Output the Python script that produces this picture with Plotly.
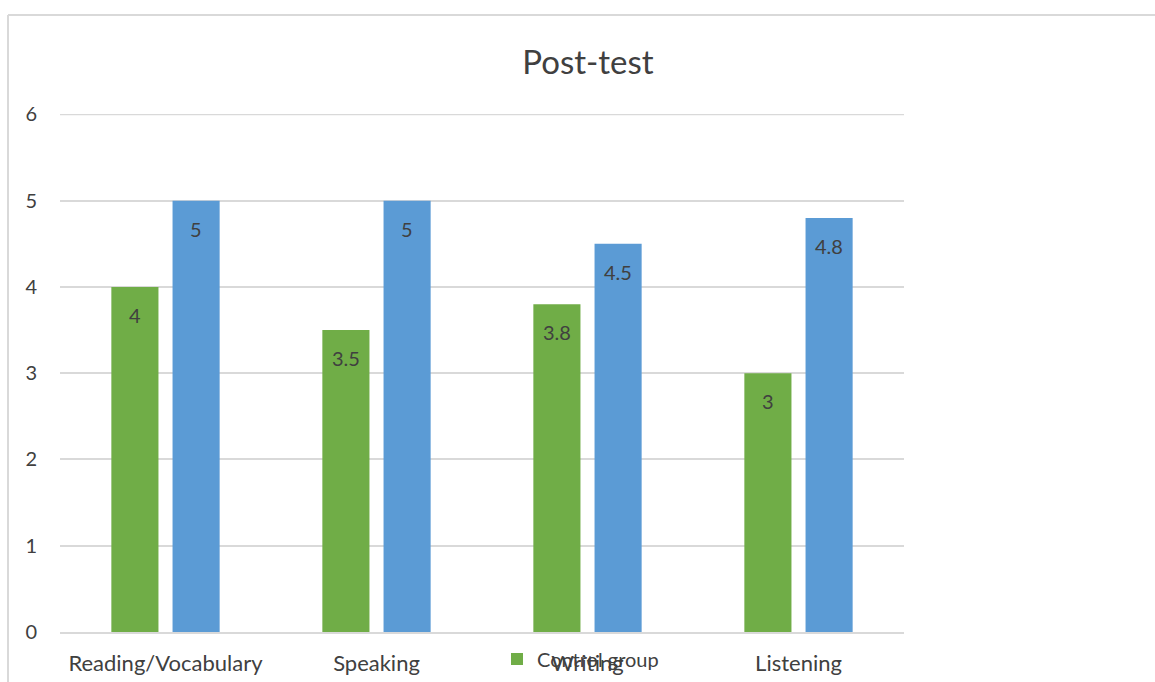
import plotly.graph_objects as go

categories = ["Reading/Vocabulary", "Speaking", "Writing", "Listening"]
control = [4, 3.5, 3.8, 3]
experimental = [5, 5, 4.5, 4.8]
y_ticks = [0, 1, 2, 3, 4, 5, 6]

FONT = "Lato, Open Sans, sans-serif"
TXT = "#404040"

fig = go.Figure()
fig.add_trace(go.Bar(
    x=categories, y=control, name="Control group",
    marker=dict(color="#70AD47", line=dict(width=0)), showlegend=True,
))
fig.add_trace(go.Bar(
    x=categories, y=experimental, name="Experimental group",
    marker=dict(color="#5B9BD5", line=dict(width=0)), showlegend=False,
))

annotations = []
for vals, dx in ((control, -31), (experimental, 30)):
    for c, v in zip(categories, vals):
        annotations.append(dict(
            x=c, y=v, xref="x", yref="y", text=str(v), showarrow=False,
            xshift=dx, yshift=-28, yanchor="middle",
            font=dict(size=20, color=TXT, family=FONT),
        ))

fig.update_layout(
    width=1155, height=682,
    margin=dict(l=60, r=251, t=114, b=50, autoexpand=False),
    paper_bgcolor="white", plot_bgcolor="white",
    barmode="group", bargap=0.42, bargroupgap=0.23,
    font=dict(family=FONT, color=TXT),
    title=dict(text="Post-test", x=588/1155, xanchor="center", xref="container",
               y=1 - 62/682, yanchor="middle", yref="container",
               font=dict(size=33, color=TXT, family=FONT)),
    legend=dict(orientation="h", x=(497 - 60) / 844, xanchor="left",
                y=1 - 659/682, yref="container", yanchor="middle",
                font=dict(size=20, color=TXT, family=FONT), bgcolor="rgba(0,0,0,0)",
                itemwidth=30),
    xaxis=dict(showgrid=False, showline=True, linecolor="#D9D9D9", linewidth=1.5,
               tickfont=dict(size=22, color=TXT, family=FONT), ticks="",
               ticklabelstandoff=11),
    yaxis=dict(range=[0, 6.005], tickvals=y_ticks, showgrid=True, gridcolor="#D9D9D9",
               gridwidth=1.5, zeroline=False, showline=False, ticks="",
               tickfont=dict(size=20, color=TXT, family=FONT), ticklabelstandoff=22),
    annotations=annotations,
    shapes=[
        dict(type="line", xref="paper", yref="y", x0=0, x1=1,
             y0=y_ticks[-1], y1=y_ticks[-1], layer="below",
             line=dict(color="#D9D9D9", width=1.5)),
        dict(type="line", xref="paper", yref="paper",
             x0=(8 - 60) / 844, x1=(1155 - 60) / 844, y0=(632 - 15) / 518, y1=(632 - 15) / 518,
             line=dict(color="#D9D9D9", width=2)),
        dict(type="line", xref="paper", yref="paper",
             x0=(8 - 60) / 844, x1=(8 - 60) / 844, y0=(632 - 15) / 518, y1=(632 - 690) / 518,
             line=dict(color="#D9D9D9", width=2)),
    ],
)

fig.write_html("out.html")
